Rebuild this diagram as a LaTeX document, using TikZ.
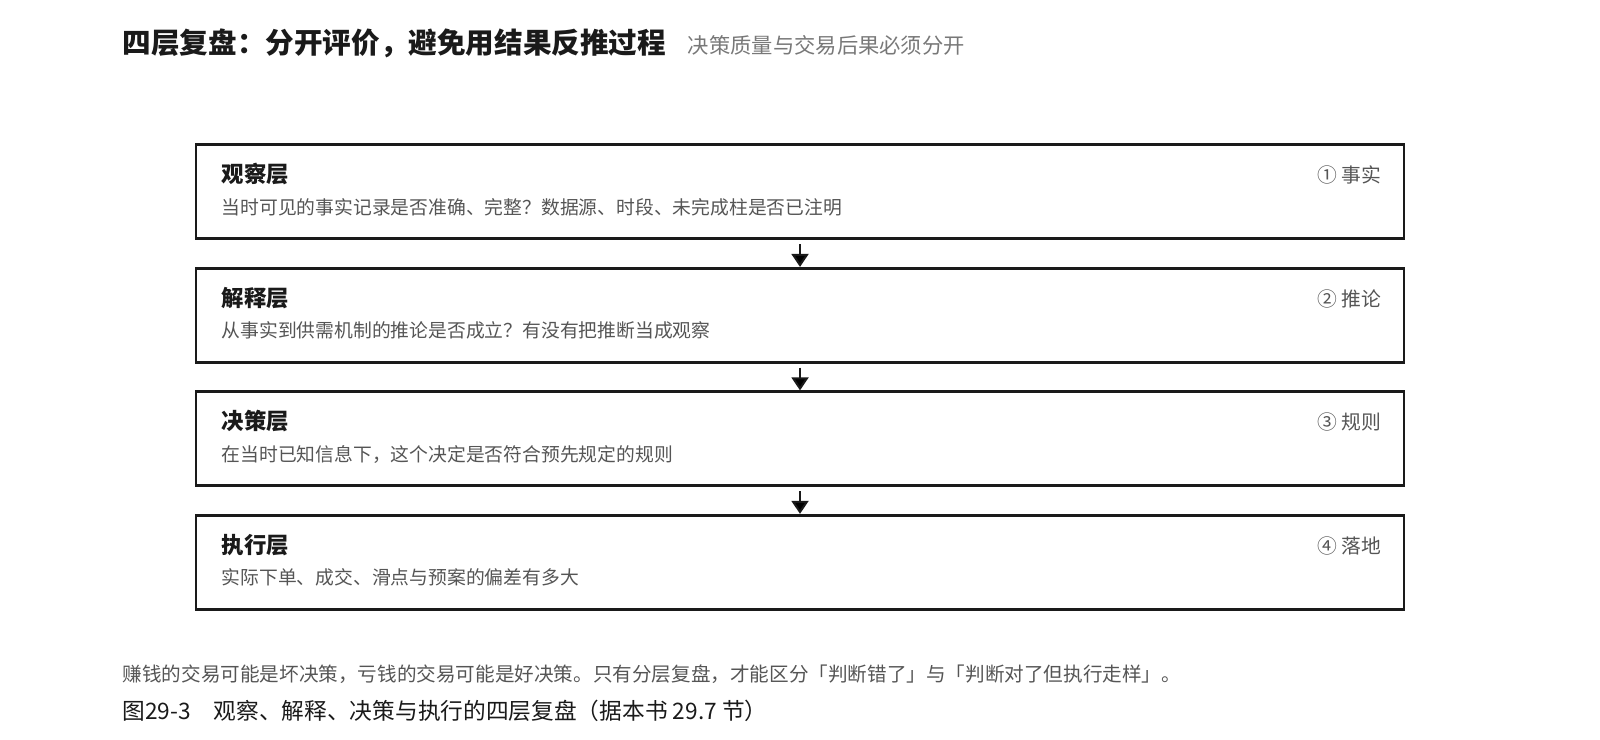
\documentclass[tikz,border=0pt]{standalone}
\usepackage{fontspec}
\setmainfont{Noto Sans CJK SC}
\usepackage{tikz}
\usetikzlibrary{arrows.meta}
\definecolor{inkD}{RGB}{26, 26, 26}
\definecolor{inkM}{RGB}{85, 85, 85}
\definecolor{inkL}{RGB}{120, 120, 120}

\begin{document}
\begin{tikzpicture}[x = 1.0204pt, y = -1.0204pt,
			layer/.style = {draw = inkD, line width = 2.8pt, minimum width = 1208pt, minimum height = 94pt, inner sep = 0pt},
			ltitle/.style = {anchor = base west, inner sep = 0pt, text = inkD, font = \fontsize{22.4}{26}\selectfont\bfseries},
			ldesc/.style = {anchor = base west, inner sep = 0pt, text = inkM, font = \fontsize{18.8}{22}\selectfont},
			ltag/.style = {anchor = base east, inner sep = 0pt, text = inkM, font = \fontsize{19.8}{23}\selectfont},
			flow/.style = {draw = inkD, line width = 2pt, -{Triangle[width = 17pt, length = 13pt]}, shorten <= 4pt}]
			\useasboundingbox (0,0) rectangle (1568,725);
			\node (t) at (120,52) [anchor = base west, inner sep = 0pt, text = inkD, font = \fontsize{28.6}{33}\selectfont\bfseries] {四层复盘：分开评价，避免用结果反推过程};
			\node (s) at (674,52) [anchor = base west, inner sep = 0pt, text = inkL, font = \fontsize{21.3}{25}\selectfont] {决策质量与交易后果必须分开};
			% four layers
			\node (a) at (784,188) [layer] {};
			\node (b) at (784,309) [layer] {};
			\node (c) at (784,430) [layer] {};
			\node (d) at (784,551) [layer] {};
			\node (a1) at (217,179) [ltitle] {观察层};
			\node (a2) at (217,210) [ldesc] {当时可见的事实记录是否准确、完整？数据源、时段、未完成柱是否已注明};
			\node (a3) at (1354,179) [ltag] {① 事实};
			\node (b1) at (217,300) [ltitle] {解释层};
			\node (b2) at (217,331) [ldesc] {从事实到供需机制的推论是否成立？有没有把推断当成观察};
			\node (b3) at (1354,300) [ltag] {② 推论};
			\node (c1) at (217,421) [ltitle] {决策层};
			\node (c2) at (217,452) [ldesc] {在当时已知信息下，这个决定是否符合预先规定的规则};
			\node (c3) at (1354,421) [ltag] {③ 规则};
			\node (d1) at (217,542) [ltitle] {执行层};
			\node (d2) at (217,573) [ldesc] {实际下单、成交、滑点与预案的偏差有多大};
			\node (d3) at (1354,542) [ltag] {④ 落地};
			\draw [flow] (a) edge (b);
			\draw [flow] (b) edge (c);
			\draw [flow] (c) edge (d);
			% notes
			\node (n) at (120,668) [anchor = base west, inner sep = 0pt, text = inkM, font = \fontsize{19.6}{23}\selectfont] {赚钱的交易可能是坏决策，亏钱的交易可能是好决策。只有分层复盘，才能区分「判断错了」与「判断对了但执行走样」。};
			\node (f) at (120,705) [anchor = base west, inner sep = 0pt, text = inkD, font = \fontsize{22.7}{26}\selectfont] {图29-3\quad 观察、解释、决策与执行的四层复盘（据本书 29.7 节）};
			\end{tikzpicture}
\end{document}
